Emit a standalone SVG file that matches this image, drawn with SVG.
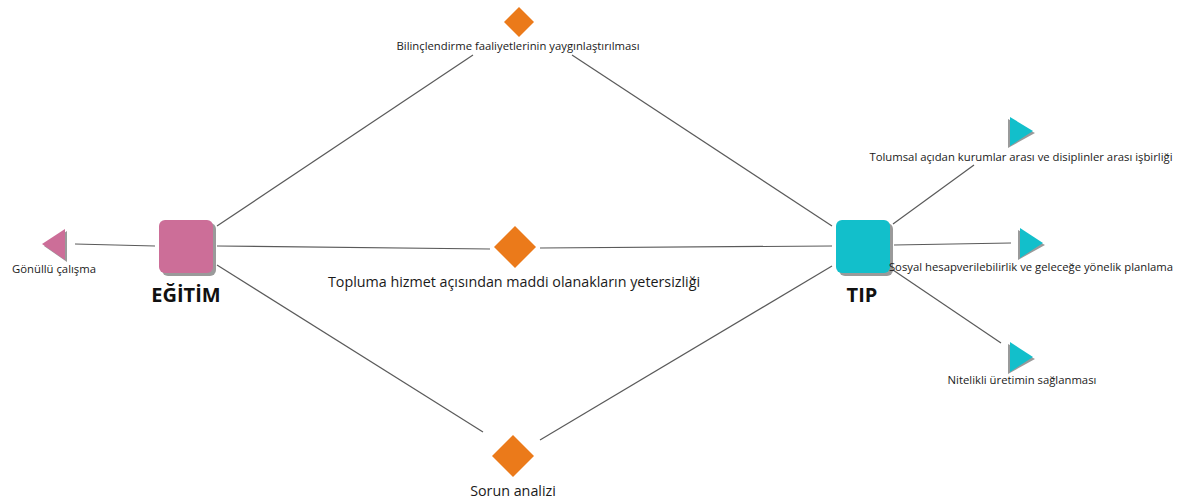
<svg xmlns="http://www.w3.org/2000/svg" width="1183" height="502" viewBox="0 0 1183 502">
  <defs>
    <style>
      .lbl { font-family: "Open Sans", "Noto Sans", "DejaVu Sans", sans-serif; fill: #1a1a1a; text-anchor: middle; }
      .sm { font-size: 11.3px; }
      .md { font-size: 14.3px; }
      .hub { font-family: "Open Sans", "Noto Sans", "DejaVu Sans", sans-serif; font-weight: bold; font-size: 20px; fill: #111; text-anchor: middle; }
      .edge { stroke: #5a5a5a; stroke-width: 1.2; fill: none; }
      .shadow { fill: #9a9a9a; }
      .pink { fill: #CC6E98; }
      .cyan { fill: #12BFCB; }
      .orange { fill: #EB7A1A; }
    </style>
  </defs>
  <rect width="1183" height="502" fill="#ffffff"/>

  <!-- connectors -->
  <g id="connectors">
    <line class="edge" x1="155" y1="246" x2="75" y2="244"/>
    <line class="edge" x1="217" y1="226" x2="473" y2="55"/>
    <line class="edge" x1="572" y1="55" x2="832" y2="226"/>
    <line class="edge" x1="217" y1="246" x2="490" y2="249"/>
    <line class="edge" x1="540" y1="248" x2="832" y2="246"/>
    <line class="edge" x1="217" y1="265" x2="483" y2="432"/>
    <line class="edge" x1="540" y1="440" x2="832" y2="266"/>
    <line class="edge" x1="893" y1="224" x2="974" y2="165"/>
    <line class="edge" x1="894" y1="245" x2="1011" y2="243"/>
    <line class="edge" x1="893" y1="270" x2="1001" y2="343"/>
  </g>

  <!-- hub: EĞİTİM -->
  <g id="node-egitim">
    <rect class="shadow" x="162" y="223" width="54" height="53" rx="6"/>
    <rect class="pink" x="159" y="220" width="54" height="53" rx="6"/>
    <text class="hub" x="186" y="302">EĞİTİM</text>
  </g>

  <!-- hub: TIP -->
  <g id="node-tip">
    <rect class="shadow" x="839" y="223" width="54" height="53" rx="6"/>
    <rect class="cyan" x="836" y="220" width="54" height="53" rx="6"/>
    <text class="hub" x="862" y="302">TIP</text>
  </g>

  <!-- leaf: Gönüllü çalışma -->
  <g id="node-gonullu">
    <polygon class="shadow" points="44,246 67,231 67,262"/>
    <polygon class="pink" points="42,244 65,229 65,260"/>
    <text class="lbl sm" x="54" y="273">Gönüllü çalışma</text>
  </g>

  <!-- shared: Bilinçlendirme -->
  <g id="node-bilinclendirme">
    <polygon class="orange" points="519,7 534,22 519,37 504,22"/>
    <text class="lbl sm" x="518" y="50">Bilinçlendirme faaliyetlerinin yaygınlaştırılması</text>
  </g>

  <!-- shared: Topluma hizmet -->
  <g id="node-topluma">
    <polygon class="orange" points="515,226 536,247 515,268 494,247"/>
    <text class="lbl md" x="514" y="287">Topluma hizmet açısından maddi olanakların yetersizliği</text>
  </g>

  <!-- shared: Sorun analizi -->
  <g id="node-sorun">
    <polygon class="orange" points="513,435 534,456 513,477 492,456"/>
    <text class="lbl md" x="513" y="496">Sorun analizi</text>
  </g>

  <!-- leaf: Tolumsal -->
  <g id="node-tolumsal">
    <polygon class="shadow" points="1008,119 1035,133 1008,148"/>
    <polygon class="cyan" points="1010,117 1033,131 1010,146"/>
    <text class="lbl sm" x="1021" y="161">Tolumsal açıdan kurumlar arası ve disiplinler arası işbirliği</text>
  </g>

  <!-- leaf: Sosyal hesapverilebilirlik -->
  <g id="node-sosyal">
    <polygon class="shadow" points="1018,230 1045,245 1018,260"/>
    <polygon class="cyan" points="1020,228 1043,243 1020,258"/>
    <text class="lbl sm" x="1031" y="271">Sosyal hesapverilebilirlik ve geleceğe yönelik planlama</text>
  </g>

  <!-- leaf: Nitelikli üretim -->
  <g id="node-nitelikli">
    <polygon class="shadow" points="1008,344 1035,359 1008,374"/>
    <polygon class="cyan" points="1010,342 1033,357 1010,372"/>
    <text class="lbl sm" x="1022" y="384">Nitelikli üretimin sağlanması</text>
  </g>
</svg>
